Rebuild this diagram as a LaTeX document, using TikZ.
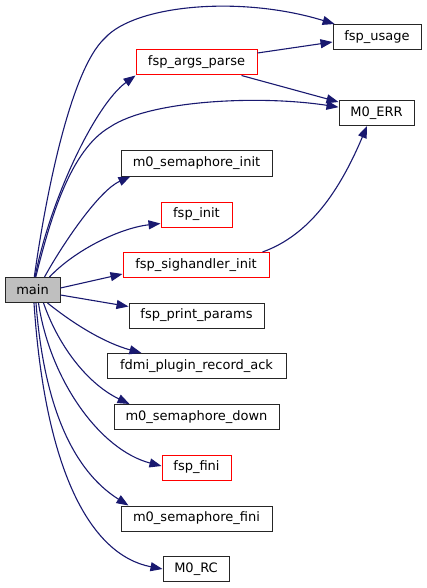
\documentclass[tikz,border=0pt]{standalone}
\usepackage{fontspec}
\setmainfont{DejaVu Sans}
\usetikzlibrary{arrows.meta,calc}
\definecolor{edgeblue}{HTML}{191970}
\definecolor{mainfill}{HTML}{BFBFBF}
\begin{document}
\begin{tikzpicture}[x=1pt,y=-1pt,
  box/.style={draw=black!85,line width=1pt,fill=white,minimum height=25pt,inner sep=0pt,font=\fontsize{13}{15}\selectfont},
  redbox/.style={box,draw=red},
  edge/.style={draw=edgeblue,line width=1.1pt,-{Triangle[length=12pt,width=9pt]}}]
\useasboundingbox (0,0) rectangle (427,588);
\node[box,fill=mainfill,minimum width=55pt] (main) at (32.5,290) {main};
\node[box,minimum width=88pt] (fsp_usage) at (377,37) {fsp\_usage};
\node[redbox,minimum width=121pt] (fsp_args_parse) at (196.5,62.5) {fsp\_args\_parse};
\node[box,minimum width=75pt] (M0_ERR) at (376.5,113) {M0\_ERR};
\node[box,minimum width=151pt] (m0_semaphore_init) at (196.5,163.5) {m0\_semaphore\_init};
\node[redbox,minimum width=71pt] (fsp_init) at (196.5,214.5) {fsp\_init};
\node[redbox,minimum width=146pt] (fsp_sighandler_init) at (196,265) {fsp\_sighandler\_init};
\node[box,minimum width=135pt] (fsp_print_params) at (196.5,315.5) {fsp\_print\_params};
\node[box,minimum width=179pt] (fdmi) at (196.5,366) {fdmi\_plugin\_record\_ack};
\node[box,minimum width=165pt] (m0_semaphore_down) at (196.5,417) {m0\_semaphore\_down};
\node[redbox,minimum width=69pt] (fsp_fini) at (196.5,467.5) {fsp\_fini};
\node[box,minimum width=151pt] (m0_semaphore_fini) at (196.5,518.5) {m0\_semaphore\_fini};
\node[box,minimum width=66pt] (M0_RC) at (196,569) {M0\_RC};
% edges from main
\draw[edge] (main) .. controls (45,200) and (70,70) .. (105,38) .. controls (135,5) and (240,-5) .. (fsp_usage);
\draw[edge] (main) .. controls (50,200) and (95,105) .. (fsp_args_parse.south west);
\draw[edge] (main) .. controls (50,220) and (70,150) .. (110,127) .. controls (150,100) and (260,95) .. (M0_ERR);
\draw[edge] ($(main.north)+(12,0)$) .. controls (65,240) and (100,190) .. ($(m0_semaphore_init.south west)+(10,0)$);
\draw[edge] ($(main.north)+(17,0)$) .. controls (75,250) and (120,228) .. ($(fsp_init.south west)+(0,-4)$);
\draw[edge] ($(main.east)+(0,-2)$) -- ($(fsp_sighandler_init.west)+(0,9)$);
\draw[edge] ($(main.east)+(0,5)$) -- ($(fsp_print_params.west)+(0,-9)$);
\draw[edge] ($(main.south)+(15,0)$) .. controls (75,325) and (105,343) .. ($(fdmi.north west)+(35,0)$);
\draw[edge] ($(main.south)+(11,0)$) .. controls (60,350) and (90,385) .. ($(m0_semaphore_down.north west)+(16,0)$);
\draw[edge] ($(main.south)+(6,0)$) .. controls (50,380) and (100,450) .. ($(fsp_fini.west)+(0,-1.5)$);
\draw[edge] ($(main.south)+(3.5,0)$) .. controls (45,420) and (80,475) .. ($(m0_semaphore_fini.north west)+(8,0)$);
\draw[edge] ($(main.south)+(1.5,0)$) .. controls (45,470) and (90,555) .. ($(M0_RC.west)+(0,0)$);
% other edges
\draw[edge] ($(fsp_args_parse.east)+(0,-9.5)$) -- ($(fsp_usage.west)+(0,5)$);
\draw[edge] ($(fsp_args_parse.south east)+(-16,0)$) -- ($(M0_ERR.north west)+(0,2)$);
\draw[edge] ($(fsp_sighandler_init.north east)+(-7,0)$) .. controls (310,235) and (340,190) .. ($(M0_ERR.south)+(-9.5,0)$);
\end{tikzpicture}
\end{document}
